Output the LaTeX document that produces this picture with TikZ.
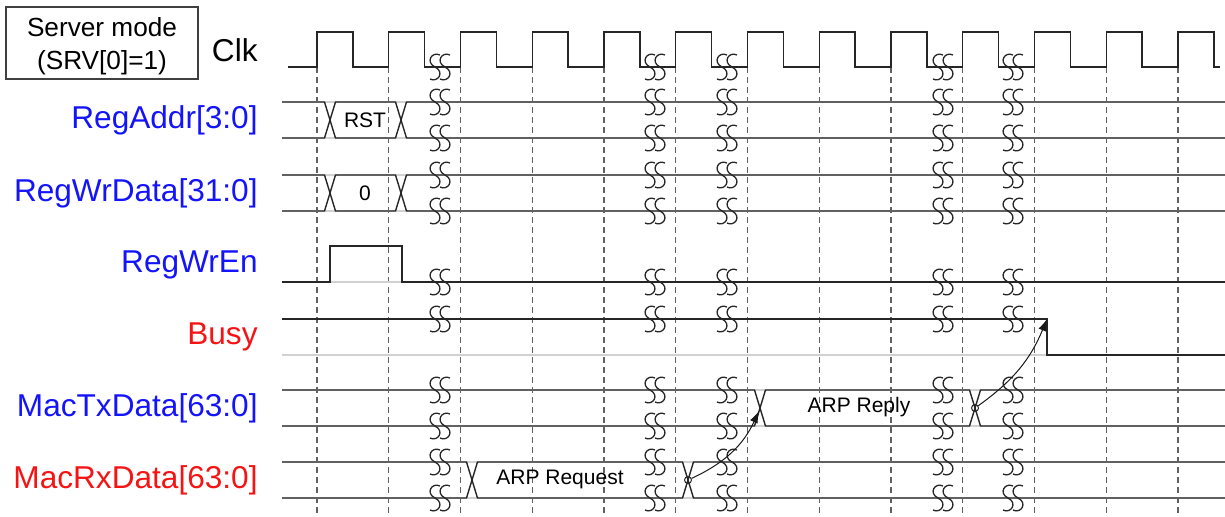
\documentclass[tikz,border=0pt]{standalone}
\usepackage{fontspec}
\setmainfont{Liberation Sans}
\usetikzlibrary{arrows.meta}
\definecolor{sigblue}{RGB}{20,20,250}
\definecolor{sigred}{RGB}{245,20,20}
\tikzset{
  sig/.style    ={line width=0.7pt, draw=black!85},
  shadow/.style ={line width=0.7pt, draw=black!18},
  guide/.style  ={line width=0.7pt, draw=black!62, dash pattern=on 3pt off 2pt},
  lbl/.style    ={anchor=east, inner sep=0pt, font=\fontsize{15.8}{19}\selectfont},
  val/.style    ={inner sep=0pt, font=\fontsize{10.5}{12}\selectfont},
  modebox/.style={rectangle, draw=black!75, line width=0.7pt, minimum width=96pt,
                  minimum height=36pt, align=center, inner sep=0pt, text depth=0pt,
                  font=\fontsize{13.1}{16.5}\selectfont},
  tap/.style    ={circle, draw=black!85, line width=0.5pt, inner sep=0pt, minimum size=3.5pt},
  ev/.style     ={-{Latex[length=6pt,width=4.2pt]}, line width=0.5pt, draw=black!90},
  brks/.pic     ={\foreach \d in {-5,5}
                   \draw[sig, line width=0.65pt] (\d+5,-12) .. controls (\d-3,-16) and (\d-10,-5) .. (\d,0)
                        .. controls (\d+10,5) and (\d+3,16) .. (\d-5,12);},
}
\def\clkO{317}
\def\clkT{71.75}
% bus row: top, bottom, first crossing, second crossing
\newcommand{\busrow}[4]{%
  \draw[shadow] (282,#1) -- (1225,#1) (282,#2) -- (1225,#2);
  \draw[sig] (282,#1) -- ({#3-5.5},#1) -- ({#3+5.5},#2) -- ({#4-5.5},#2) -- ({#4+5.5},#1) -- (1225,#1);
  \draw[sig] (282,#2) -- ({#3-5.5},#2) -- ({#3+5.5},#1) -- ({#4-5.5},#1) -- ({#4+5.5},#2) -- (1225,#2);
}

\begin{document}
\begin{tikzpicture}[x=0.5pt, y=-0.5pt]
\useasboundingbox (0,0) rectangle (1225,516);

\node[modebox] (mode) at (102,43) {Server mode\\(SRV[0]=1)};

% labels
\node[lbl] (clk) at (258,50) {Clk};
\node[lbl, text=sigblue] (addr) at (258,120) {RegAddr[3:0]};
\node[lbl, text=sigblue] (wrdata) at (258,193) {RegWrData[31:0]};
\node[lbl, text=sigblue] (wren) at (258,265) {RegWrEn};
\node[lbl, text=sigred] (busy) at (258,337) {Busy};
\node[lbl, text=sigblue] (txdata) at (258,408) {MacTxData[63:0]};
\node[lbl, text=sigred] (rxdata) at (258,480) {MacRxData[63:0]};

% clock edges
\foreach \k in {0,...,12}
  \draw[guide] ({\clkO+\k*\clkT},67) -- ({\clkO+\k*\clkT},516);

\draw[sig] (288,67) \foreach \k in {0,...,12}{
    -- ({\clkO+\k*\clkT},67) -- ({\clkO+\k*\clkT},32)
    -- ({\clkO+\k*\clkT+35.9},32) -- ({\clkO+\k*\clkT+35.9},67)} -- (1220,67);

% buses
\busrow{102}{138}{330}{401}
\busrow{175}{211}{330}{401}
\busrow{390}{426}{760}{975}
\busrow{462}{498}{472}{688}

% RegWrEn
\draw[shadow] (330,282) -- (402,282);
\draw[sig] (282,282) -- (330,282) -- (330,246) -- (402,246) -- (402,282) -- (1225,282);

% Busy
\draw[shadow] (282,355) -- (1047,355);
\draw[sig] (282,319) -- (1047,319) -- (1047,355) -- (1225,355);

% breaks
\foreach \bx in {440,655,727,943,1013}
  \foreach \by in {67,102,138,175,211,282,319,390,426,462,498}
    \pic at (\bx,\by) {brks};

% values
\node[val] (rst) at (365,120) {RST};
\node[val] (zero) at (365,193) {0};
\node[val] (req) at (560,479) {ARP Request};
\node[val] (rep) at (859,407) {ARP Reply};

% causes
\node[tap] (rxend) at (688,480) {};
\node[tap] (txend) at (975,408) {};
\coordinate (txstart) at (759,411);
\coordinate (busyfall) at (1047,319);
\draw[ev] (rxend) to[bend right=20] (txstart);
\draw[ev] (txend) to[bend right=16] (busyfall);

\end{tikzpicture}
\end{document}
